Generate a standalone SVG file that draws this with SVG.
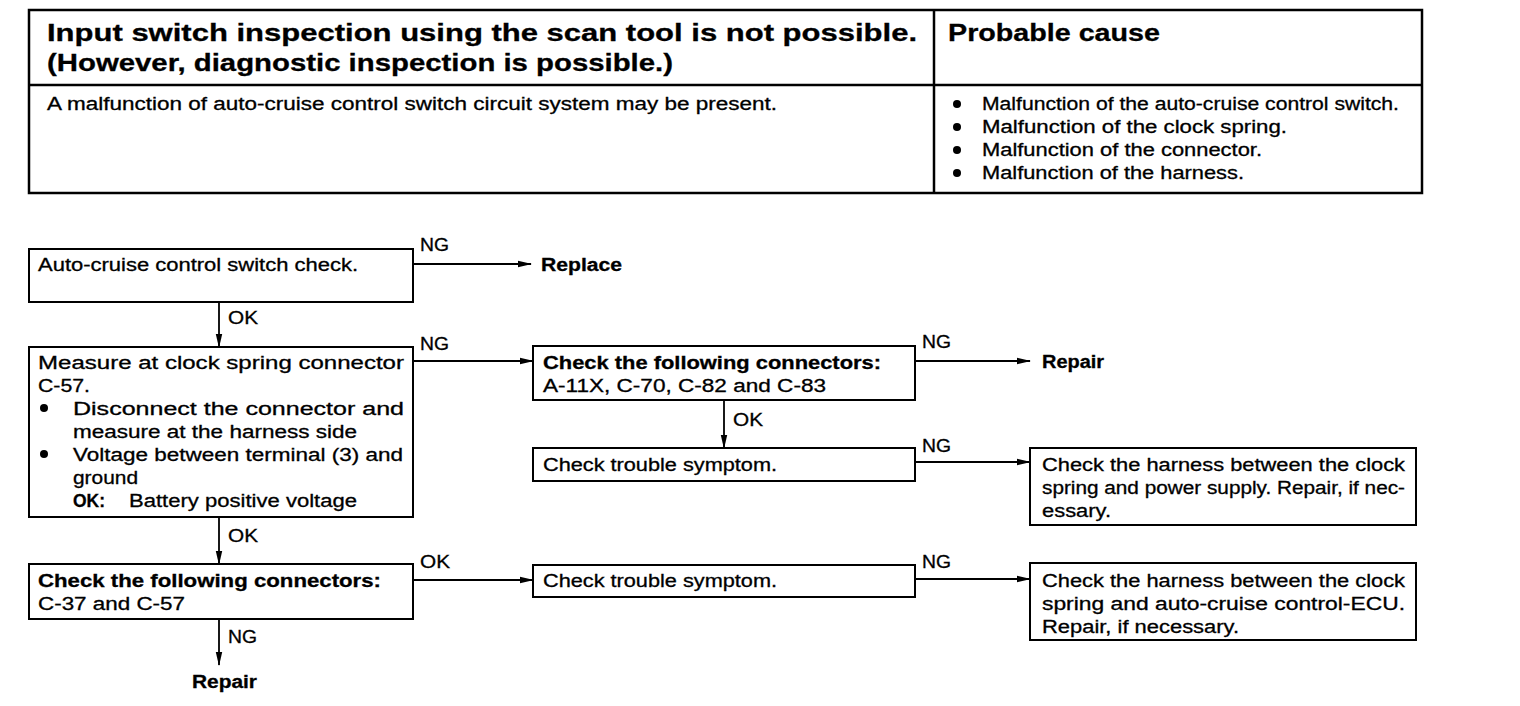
<svg xmlns="http://www.w3.org/2000/svg" width="1520" height="706" viewBox="0 0 1520 706">
<style>
text{font-family:"Liberation Sans",Arial,sans-serif;fill:#000;stroke:#000;stroke-width:0.3}
.t{font-size:18px}
.b{font-size:18px;font-weight:bold}
.h{font-size:24px;font-weight:bold}
.box{fill:#fff;stroke:#000;stroke-width:2}
.tb{fill:none;stroke:#000;stroke-width:2.5}
.arr{stroke:#000;stroke-width:1.8;fill:none;marker-end:url(#ah)}
</style>
<defs>
<marker id="ah" viewBox="0 0 14 8" refX="13" refY="4" markerWidth="14" markerHeight="8" markerUnits="userSpaceOnUse" orient="auto">
<path d="M0,0.8 L14,4 L0,7.2 Z" fill="#000"/>
</marker>
</defs>
<rect width="1520" height="706" fill="#fff"/>

<g id="table">
<rect class="tb" x="29" y="10" width="1393" height="183"/>
<line class="tb" x1="29" y1="85" x2="1422" y2="85"/>
<line class="tb" x1="934" y1="10" x2="934" y2="193"/>
<text class="h" x="47" y="41" textLength="870" lengthAdjust="spacingAndGlyphs">Input switch inspection using the scan tool is not possible.</text>
<text class="h" x="47" y="71" textLength="626" lengthAdjust="spacingAndGlyphs">(However, diagnostic inspection is possible.)</text>
<text class="h" x="948" y="41" textLength="212" lengthAdjust="spacingAndGlyphs">Probable cause</text>
<text class="t" x="47" y="110" textLength="730" lengthAdjust="spacingAndGlyphs">A malfunction of auto-cruise control switch circuit system may be present.</text>
<circle cx="957" cy="104" r="4"/>
<circle cx="957" cy="127" r="4"/>
<circle cx="957" cy="150" r="4"/>
<circle cx="957" cy="173" r="4"/>
<text class="t" x="982" y="110" textLength="417" lengthAdjust="spacingAndGlyphs">Malfunction of the auto-cruise control switch.</text>
<text class="t" x="982" y="133" textLength="305" lengthAdjust="spacingAndGlyphs">Malfunction of the clock spring.</text>
<text class="t" x="982" y="156" textLength="280" lengthAdjust="spacingAndGlyphs">Malfunction of the connector.</text>
<text class="t" x="982" y="179" textLength="262" lengthAdjust="spacingAndGlyphs">Malfunction of the harness.</text>
</g>

<g id="connectors">
<line class="arr" x1="413" y1="264" x2="531" y2="264"/>
<line class="arr" x1="219" y1="302" x2="219" y2="347"/>
<line class="arr" x1="413" y1="361" x2="533" y2="361"/>
<line class="arr" x1="915" y1="361" x2="1030" y2="361"/>
<line class="arr" x1="724" y1="400" x2="724" y2="448"/>
<line class="arr" x1="915" y1="462" x2="1030" y2="462"/>
<line class="arr" x1="219" y1="517" x2="219" y2="564"/>
<line class="arr" x1="413" y1="580" x2="533" y2="580"/>
<line class="arr" x1="915" y1="579" x2="1030" y2="579"/>
<line class="arr" x1="219" y1="619" x2="219" y2="665"/>
<text class="t" x="420" y="251" textLength="29" lengthAdjust="spacingAndGlyphs">NG</text>
<text class="t" x="228" y="324" textLength="30" lengthAdjust="spacingAndGlyphs">OK</text>
<text class="t" x="420" y="350" textLength="29" lengthAdjust="spacingAndGlyphs">NG</text>
<text class="t" x="922" y="348" textLength="29" lengthAdjust="spacingAndGlyphs">NG</text>
<text class="t" x="733" y="426" textLength="30" lengthAdjust="spacingAndGlyphs">OK</text>
<text class="t" x="922" y="452" textLength="29" lengthAdjust="spacingAndGlyphs">NG</text>
<text class="t" x="228" y="542" textLength="30" lengthAdjust="spacingAndGlyphs">OK</text>
<text class="t" x="420" y="568" textLength="30" lengthAdjust="spacingAndGlyphs">OK</text>
<text class="t" x="922" y="568" textLength="29" lengthAdjust="spacingAndGlyphs">NG</text>
<text class="t" x="228" y="643" textLength="29" lengthAdjust="spacingAndGlyphs">NG</text>
</g>

<g id="n1">
<rect class="box" x="29" y="249" width="384" height="53"/>
<text class="t" x="38" y="271" textLength="320" lengthAdjust="spacingAndGlyphs">Auto-cruise control switch check.</text>
</g>
<g id="replace">
<text class="b" x="541" y="271" textLength="81" lengthAdjust="spacingAndGlyphs">Replace</text>
</g>

<g id="n2">
<rect class="box" x="29" y="347" width="384" height="170"/>
<text class="t" x="38" y="369" textLength="366" lengthAdjust="spacingAndGlyphs">Measure at clock spring connector</text>
<text class="t" x="38" y="392" textLength="52" lengthAdjust="spacingAndGlyphs">C-57.</text>
<circle cx="44" cy="408" r="4"/>
<text class="t" x="73" y="415" textLength="331" lengthAdjust="spacingAndGlyphs">Disconnect the connector and</text>
<text class="t" x="73" y="438" textLength="284" lengthAdjust="spacingAndGlyphs">measure at the harness side</text>
<circle cx="44" cy="454" r="4"/>
<text class="t" x="73" y="461" textLength="330" lengthAdjust="spacingAndGlyphs">Voltage between terminal (3) and</text>
<text class="t" x="73" y="484" textLength="65" lengthAdjust="spacingAndGlyphs">ground</text>
<text class="b" x="73" y="507" textLength="32" lengthAdjust="spacingAndGlyphs">OK:</text>
<text class="t" x="129" y="507" textLength="228" lengthAdjust="spacingAndGlyphs">Battery positive voltage</text>
</g>

<g id="n3">
<rect class="box" x="533" y="346" width="382" height="54"/>
<text class="b" x="543" y="369" textLength="338" lengthAdjust="spacingAndGlyphs">Check the following connectors:</text>
<text class="t" x="543" y="392" textLength="283" lengthAdjust="spacingAndGlyphs">A-11X, C-70, C-82 and C-83</text>
</g>
<g id="repair1">
<text class="b" x="1042" y="368" textLength="62" lengthAdjust="spacingAndGlyphs">Repair</text>
</g>

<g id="n4">
<rect class="box" x="533" y="448" width="382" height="33"/>
<text class="t" x="543" y="471" textLength="234" lengthAdjust="spacingAndGlyphs">Check trouble symptom.</text>
</g>

<g id="n5">
<rect class="box" x="1030" y="448" width="386" height="77"/>
<text class="t" x="1042" y="471" textLength="363" lengthAdjust="spacingAndGlyphs">Check the harness between the clock</text>
<text class="t" x="1042" y="494" textLength="363" lengthAdjust="spacingAndGlyphs">spring and power supply. Repair, if nec-</text>
<text class="t" x="1042" y="517" textLength="69" lengthAdjust="spacingAndGlyphs">essary.</text>
</g>

<g id="n6">
<rect class="box" x="29" y="564" width="384" height="55"/>
<text class="b" x="38" y="587" textLength="343" lengthAdjust="spacingAndGlyphs">Check the following connectors:</text>
<text class="t" x="38" y="610" textLength="147" lengthAdjust="spacingAndGlyphs">C-37 and C-57</text>
</g>

<g id="n7">
<rect class="box" x="533" y="565" width="382" height="32"/>
<text class="t" x="543" y="587" textLength="234" lengthAdjust="spacingAndGlyphs">Check trouble symptom.</text>
</g>

<g id="n8">
<rect class="box" x="1030" y="563" width="386" height="77"/>
<text class="t" x="1042" y="587" textLength="363" lengthAdjust="spacingAndGlyphs">Check the harness between the clock</text>
<text class="t" x="1042" y="610" textLength="363" lengthAdjust="spacingAndGlyphs">spring and auto-cruise control-ECU.</text>
<text class="t" x="1042" y="633" textLength="197" lengthAdjust="spacingAndGlyphs">Repair, if necessary.</text>
</g>

<g id="repair2">
<text class="b" x="192" y="688" textLength="65" lengthAdjust="spacingAndGlyphs">Repair</text>
</g>
</svg>
